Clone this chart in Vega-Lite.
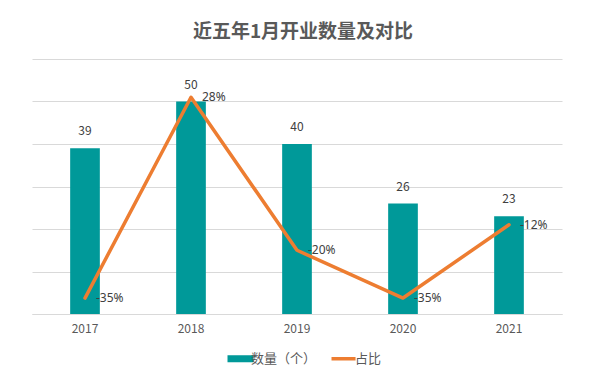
{
  "$schema": "https://vega.github.io/schema/vega-lite/v6.json",
  "width": 530,
  "height": 255,
  "autosize": {"type": "none"},
  "padding": {"left": 32, "top": 59, "right": 44, "bottom": 65},
  "background": "white",
  "config": {"view": {"stroke": null}, "font": "Noto Sans CJK SC"},
  "title": {"text": "近五年1月开业数量及对比", "fontSize": 19, "font": "Noto Sans CJK SC", "fontWeight": "bold", "color": "#595959", "anchor": "middle", "offset": 17, "dx": 6},
  "data": {"values": [
    {"year": "2017", "count": 39, "pct": -0.35, "pctLabel": "-35%"},
    {"year": "2018", "count": 50, "pct": 0.28, "pctLabel": "28%"},
    {"year": "2019", "count": 40, "pct": -0.20, "pctLabel": "-20%"},
    {"year": "2020", "count": 26, "pct": -0.35, "pctLabel": "-35%"},
    {"year": "2021", "count": 23, "pct": -0.12, "pctLabel": "-12%"}
  ]},
  "layer": [
    {
      "mark": {"type": "bar"},
      "encoding": {
        "x": {"field": "year", "type": "ordinal", "scale": {"paddingInner": 0.72, "paddingOuter": 0.36},
              "axis": {"title": null, "labelAngle": 0, "domainColor": "#D9D9D9", "ticks": false, "labelColor": "#595959", "labelFontSize": 12, "labelPadding": 9}},
        "y": {"field": "count", "type": "quantitative", "scale": {"domain": [0, 60]},
              "axis": {"title": null, "labels": false, "ticks": false, "domain": false, "grid": true, "gridColor": "#D9D9D9", "values": [0, 10, 20, 30, 40, 50, 60]}},
        "color": {"datum": "数量（个）", "type": "nominal",
                  "scale": {"domain": ["数量（个）", "占比"], "range": ["#009999", "#ED7D31"]},
                  "legend": {"title": null, "orient": "none", "legendX": 202, "legendY": 293, "direction": "horizontal", "padding": 0,
                             "symbolSize": 676, "labelFontSize": 13, "labelColor": "#595959", "columnPadding": 7, "labelOffset": 4,
                             "encode": {"symbols": {"update": {
                               "shape": {"signal": "datum.value === '占比' ? 'M-1,0H0.85' : 'M-1,-0.27H1V0.27H-1Z'"},
                               "fill": {"signal": "datum.value === '占比' ? 'transparent' : '#009999'"},
                               "stroke": {"signal": "datum.value === '占比' ? '#ED7D31' : 'transparent'"},
                               "strokeWidth": {"signal": "datum.value === '占比' ? 3.5 : 0"},
                               "opacity": {"value": 1}
                             }}}}}
      }
    },
    {
      "mark": {"type": "text", "baseline": "middle", "dy": -17, "fontSize": 12, "color": "#404040"},
      "encoding": {
        "x": {"field": "year", "type": "ordinal"},
        "y": {"field": "count", "type": "quantitative", "scale": {"domain": [0, 60]}, "axis": null},
        "text": {"field": "count"}
      }
    },
    {
      "mark": {"type": "line", "strokeWidth": 3.5, "strokeCap": "round", "strokeJoin": "round"},
      "encoding": {
        "x": {"field": "year", "type": "ordinal"},
        "y": {"field": "pct", "type": "quantitative", "scale": {"domain": [-0.4, 0.4]}, "axis": null},
        "color": {"datum": "占比", "type": "nominal"}
      }
    },
    {
      "mark": {"type": "text", "align": "left", "baseline": "middle", "dx": 11, "fontSize": 12, "font": "Noto Sans", "color": "#404040"},
      "encoding": {
        "x": {"field": "year", "type": "ordinal"},
        "y": {"field": "pct", "type": "quantitative", "scale": {"domain": [-0.4, 0.4]}, "axis": null},
        "text": {"field": "pctLabel"}
      }
    }
  ],
  "resolve": {"scale": {"y": "independent"}}
}
